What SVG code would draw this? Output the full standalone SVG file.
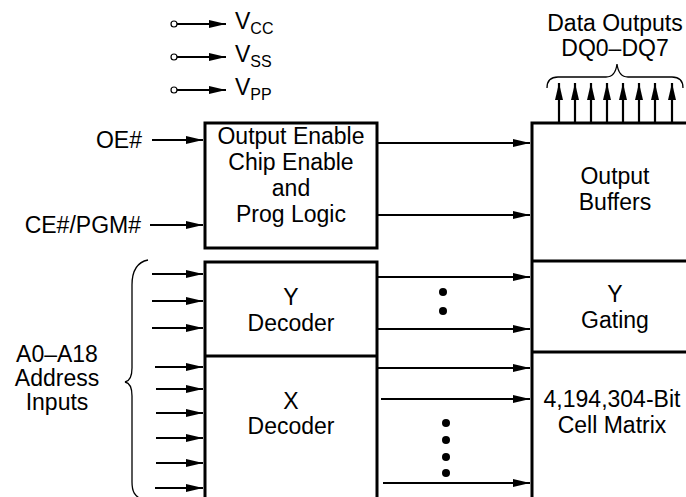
<svg xmlns="http://www.w3.org/2000/svg" width="686" height="497" viewBox="0 0 686 497">
<style>
text{font-family:"Liberation Sans",Arial,sans-serif;font-size:23px;fill:#000}
.c{text-anchor:middle}
.r{text-anchor:end}
.box{fill:none;stroke:#000;stroke-width:3}
.ln{stroke:#000;stroke-width:2.2;fill:none}
.thin{stroke:#000;stroke-width:2;fill:none}
.br{stroke:#000;stroke-width:1.3;fill:none}
.sub{font-size:16px}
</style>
<defs>
<marker id="ah" viewBox="0 0 17 8" refX="17" refY="4" markerWidth="17" markerHeight="8" orient="auto" markerUnits="userSpaceOnUse"><path d="M0,0 L17,4 L0,8 z" fill="#000"/></marker>
<marker id="ahs" viewBox="0 0 17 8" refX="17" refY="4" markerWidth="17" markerHeight="8" orient="auto" markerUnits="userSpaceOnUse"><path d="M0,0 L17,4 L0,8 z" fill="#000"/></marker>
</defs>

<g id="power">
<circle cx="174" cy="24" r="3" fill="#fff" stroke="#000" stroke-width="1.2"/>
<circle cx="174" cy="57" r="3" fill="#fff" stroke="#000" stroke-width="1.2"/>
<circle cx="174" cy="90" r="3" fill="#fff" stroke="#000" stroke-width="1.2"/>
<text x="235" y="29">V<tspan class="sub" dy="5">CC</tspan></text>
<text x="235" y="62">V<tspan class="sub" dy="5">SS</tspan></text>
<text x="235" y="95">V<tspan class="sub" dy="5">PP</tspan></text>
</g>

<g id="ctrl-labels">
<text class="r" x="142" y="148">OE#</text>
<text class="r" x="141" y="233">CE#/PGM#</text>
</g>

<g id="address-label">
<text class="c" x="57" y="362">A0–A18</text>
<text class="c" x="57" y="386">Address</text>
<text class="c" x="57" y="410">Inputs</text>
<path class="br" d="M148,260 C138,262 132,270 132,285 L132,368 C132,376 130,381 125,382 C130,383 132,388 132,396 L132,482 C132,492 135,496 141,499"/>
</g>

<g id="data-label">
<text class="c" x="615" y="31">Data Outputs</text>
<text class="c" x="615" y="56">DQ0–DQ7</text>
<path class="br" d="M547,88 C547,81 551,77 558,77 L606,77 C612,77 616,72 617,64 C618,72 622,77 628,77 L672,77 C679,77 683,81 683,88"/>
</g>

<g id="logic">
<rect class="box" x="205" y="123" width="172" height="125"/>
<text class="c" x="291" y="144">Output Enable</text>
<text class="c" x="291" y="170">Chip Enable</text>
<text class="c" x="291" y="196">and</text>
<text class="c" x="291" y="222">Prog Logic</text>
</g>

<g id="ydecoder">
<path class="box" d="M205,497 L205,262 L377,262 L377,497"/>
<line class="box" x1="205" y1="356" x2="377" y2="356"/>
<text class="c" x="291" y="305">Y</text>
<text class="c" x="291" y="331">Decoder</text>
</g>

<g id="xdecoder">
<text class="c" x="291" y="409">X</text>
<text class="c" x="291" y="434">Decoder</text>
</g>

<g id="output-buffers">
<path class="box" d="M532,497 L532,123 L688,123"/>
<text class="c" x="615" y="184">Output</text>
<text class="c" x="615" y="210">Buffers</text>
</g>

<g id="ygating">
<line class="box" x1="532" y1="261" x2="688" y2="261"/>
<text class="c" x="615" y="302">Y</text>
<text class="c" x="615" y="328">Gating</text>
</g>

<g id="cell-matrix">
<line class="box" x1="532" y1="352" x2="688" y2="352"/>
<text class="c" x="612" y="407">4,194,304-Bit</text>
<text class="c" x="612" y="433">Cell Matrix</text>
</g>

<g id="connectors">
<line class="thin" x1="177" y1="24" x2="226" y2="24" marker-end="url(#ahs)"/>
<line class="thin" x1="177" y1="57" x2="226" y2="57" marker-end="url(#ahs)"/>
<line class="thin" x1="177" y1="90" x2="226" y2="90" marker-end="url(#ahs)"/>
<line class="ln" x1="152" y1="140" x2="203" y2="140" marker-end="url(#ah)"/>
<line class="ln" x1="150" y1="225" x2="203" y2="225" marker-end="url(#ah)"/>
<line class="ln" x1="378" y1="143" x2="530" y2="143" marker-end="url(#ah)"/>
<line class="ln" x1="378" y1="215" x2="530" y2="215" marker-end="url(#ah)"/>
<line class="ln" x1="152" y1="274" x2="203" y2="274" marker-end="url(#ah)"/>
<line class="ln" x1="152" y1="301" x2="203" y2="301" marker-end="url(#ah)"/>
<line class="ln" x1="152" y1="328" x2="203" y2="328" marker-end="url(#ah)"/>
<line class="ln" x1="155" y1="367" x2="203" y2="367" marker-end="url(#ah)"/>
<line class="ln" x1="156" y1="389" x2="203" y2="389" marker-end="url(#ah)"/>
<line class="ln" x1="156" y1="413" x2="203" y2="413" marker-end="url(#ah)"/>
<line class="ln" x1="156" y1="438" x2="203" y2="438" marker-end="url(#ah)"/>
<line class="ln" x1="156" y1="463" x2="203" y2="463" marker-end="url(#ah)"/>
<line class="ln" x1="155" y1="488" x2="203" y2="488" marker-end="url(#ah)"/>
<line class="ln" x1="378" y1="277" x2="530" y2="277" marker-end="url(#ah)"/>
<line class="ln" x1="378" y1="329" x2="530" y2="329" marker-end="url(#ah)"/>
<line class="ln" x1="378" y1="368" x2="530" y2="368" marker-end="url(#ah)"/>
<line class="ln" x1="381" y1="399" x2="530" y2="399" marker-end="url(#ah)"/>
<line class="ln" x1="383" y1="483" x2="530" y2="483" marker-end="url(#ah)"/>
<line class="ln" x1="559" y1="122" x2="559" y2="83" marker-end="url(#ah)"/>
<line class="ln" x1="575" y1="122" x2="575" y2="83" marker-end="url(#ah)"/>
<line class="ln" x1="591" y1="122" x2="591" y2="83" marker-end="url(#ah)"/>
<line class="ln" x1="607" y1="122" x2="607" y2="83" marker-end="url(#ah)"/>
<line class="ln" x1="623" y1="122" x2="623" y2="83" marker-end="url(#ah)"/>
<line class="ln" x1="639" y1="122" x2="639" y2="83" marker-end="url(#ah)"/>
<line class="ln" x1="655" y1="122" x2="655" y2="83" marker-end="url(#ah)"/>
<line class="ln" x1="672" y1="122" x2="672" y2="83" marker-end="url(#ah)"/>
<circle cx="443" cy="292" r="4"/>
<circle cx="443" cy="311" r="4"/>
<circle cx="446" cy="423" r="4"/>
<circle cx="446" cy="440" r="4"/>
<circle cx="446" cy="457" r="4"/>
<circle cx="446" cy="473" r="4"/>
</g>
</svg>
